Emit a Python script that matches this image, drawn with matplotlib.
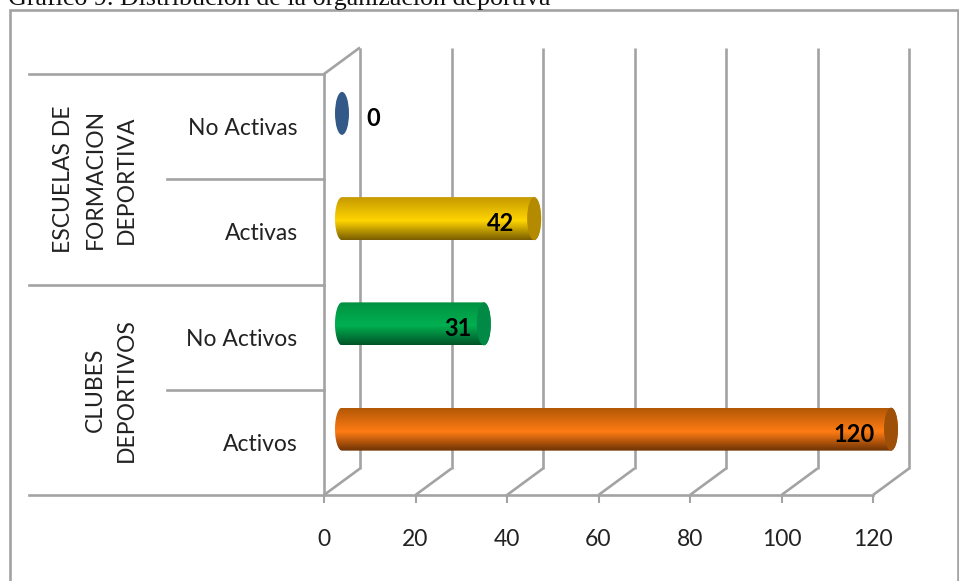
#!/usr/bin/env python3
import numpy as np
import matplotlib
matplotlib.use("Agg")
import matplotlib.pyplot as plt
from matplotlib.colors import LinearSegmentedColormap
from matplotlib.patches import Ellipse, Rectangle
from matplotlib.path import Path

categories = ["Activos", "No Activos", "Activas", "No Activas"]
values = [120, 31, 42, 0]
x_ticks = [0, 20, 40, 60, 80, 100, 120]
groups = ["CLUBES\nDEPORTIVOS", "ESCUELAS DE\nFORMACION\nDEPORTIVA"]
title = "Gráfico 9. Distribución de la organización deportiva"

# top edge, middle, bottom edge, end cap
bar_colors = [
    ("#B35806", "#FF7C14", "#6E3304", "#9E5008"),
    ("#009040", "#00B050", "#005528", "#008A45"),
    ("#C79A00", "#FFD500", "#7A5E00", "#B38A00"),
    ("#335988", "#335988", "#335988", "#335988"),
]
# label shift from the bar end, in pixels
label_shift = [-37, -26, -34, 31]

W, H = 959, 581
LEFT, RIGHT, TOP, BOTTOM = 324, 873, 74, 495
GREY = "#A3A3A3"
FONT = "Lato"
FS = 16.5

plt.rcParams["font.family"] = FONT
fig = plt.figure(figsize=(W / 100, H / 100), dpi=100)
ax = fig.add_axes([LEFT / W, (H - BOTTOM) / H, (RIGHT - LEFT) / W, (BOTTOM - TOP) / H])
ax.set_xlim(0, 120)
ax.set_ylim(0, 4)
ax.patch.set_alpha(0)

ux = (RIGHT - LEFT) / 120
uy = (BOTTOM - TOP) / 4
depth_x = 36 / ux
depth_y = 26.5 / uy
cap_w = 14 / ux
bar_h = 43 / uy


def wall_line(xs, ys, lw=1.9):
    ax.plot(xs, ys, color=GREY, lw=lw, clip_on=False, zorder=1, solid_capstyle="butt")


# chart frame, runs off the page at the bottom
fig.add_artist(Rectangle((9.5 / W, -0.02), 948 / W, (H - 10) / H + 0.02,
                         transform=fig.transFigure, fill=False, ec=GREY, lw=1.9))
fig.text(8 / W, 1 - 5 / H, title, family="Liberation Serif", fontsize=18.7,
         color="#111111", ha="left", va="baseline")

# back wall and floor
for t in x_ticks:
    wall_line([t, t + depth_x], [0, depth_y])
    wall_line([t + depth_x, t + depth_x], [depth_y, 4 + depth_y])
wall_line([0, depth_x], [4, 4 + depth_y])

# category separators out to the left of the axis
trans = ax.get_yaxis_transform()
for y, start in [(0, 29), (1, 167), (2, 29), (3, 167), (4, 29)]:
    ax.plot([(start - LEFT) / (RIGHT - LEFT), 0], [y, y], color=GREY, lw=1.9,
            transform=trans, clip_on=False, zorder=1)

# bars
for i, (val, cols) in enumerate(zip(values, bar_colors)):
    x0 = depth_x / 2
    x1 = val + depth_x / 2
    yc = i + 0.5 + depth_y / 2
    if val > 0:
        cmap = LinearSegmentedColormap.from_list("bar", [(0, cols[0]), (0.55, cols[1]), (1, cols[2])])
        right = np.linspace(-np.pi / 2, np.pi / 2, 60)
        left = np.linspace(np.pi / 2, 3 * np.pi / 2, 60)
        px = np.r_[x1 + cap_w / 2 * np.cos(right), x0 + cap_w / 2 * np.cos(left)]
        py = np.r_[yc + bar_h / 2 * np.sin(right), yc + bar_h / 2 * np.sin(left)]
        im = ax.imshow(np.linspace(0, 1, 64).reshape(-1, 1), cmap=cmap, aspect="auto",
                       extent=(x0 - cap_w, x1 + cap_w, yc - bar_h / 2, yc + bar_h / 2),
                       zorder=2, origin="upper")
        im.set_clip_box(fig.bbox)
        im.set_clip_path(Path(np.c_[px, py]), ax.transData)
    ax.add_patch(Ellipse((x1, yc), cap_w, bar_h, fc=cols[3], ec="none", zorder=3, clip_on=False))
    ax.annotate(str(val), (x1, yc), xytext=(label_shift[i] * 0.72, -5 * 0.72),
                textcoords="offset points", ha="center", va="center", annotation_clip=False,
                fontsize=FS + 0.5, fontweight="bold", color="black", zorder=4)

ax.set_xlim(0, 120)
ax.set_ylim(0, 4)

for side in ["top", "right"]:
    ax.spines[side].set_visible(False)
for side in ["left", "bottom"]:
    ax.spines[side].set_color(GREY)
    ax.spines[side].set_linewidth(1.9)

ax.set_xticks(x_ticks)
ax.set_yticks(np.arange(len(categories)) + 0.5)
ax.set_yticklabels(categories)
ax.tick_params(axis="x", length=6, width=1.5, color=GREY, pad=18.5, labelsize=FS, labelcolor="#222222")
ax.tick_params(axis="y", length=0, pad=19, labelsize=FS, labelcolor="#222222")

# rotated group names
for g, y, px_x in zip(groups, [1, 3], [111, 95]):
    ax.text((px_x - LEFT) / (RIGHT - LEFT), y, g, transform=trans, rotation=90,
            ha="center", va="center", ma="center", fontsize=FS, color="#222222",
            linespacing=1.6)

fig.savefig("out.png", dpi=100, facecolor="white")
